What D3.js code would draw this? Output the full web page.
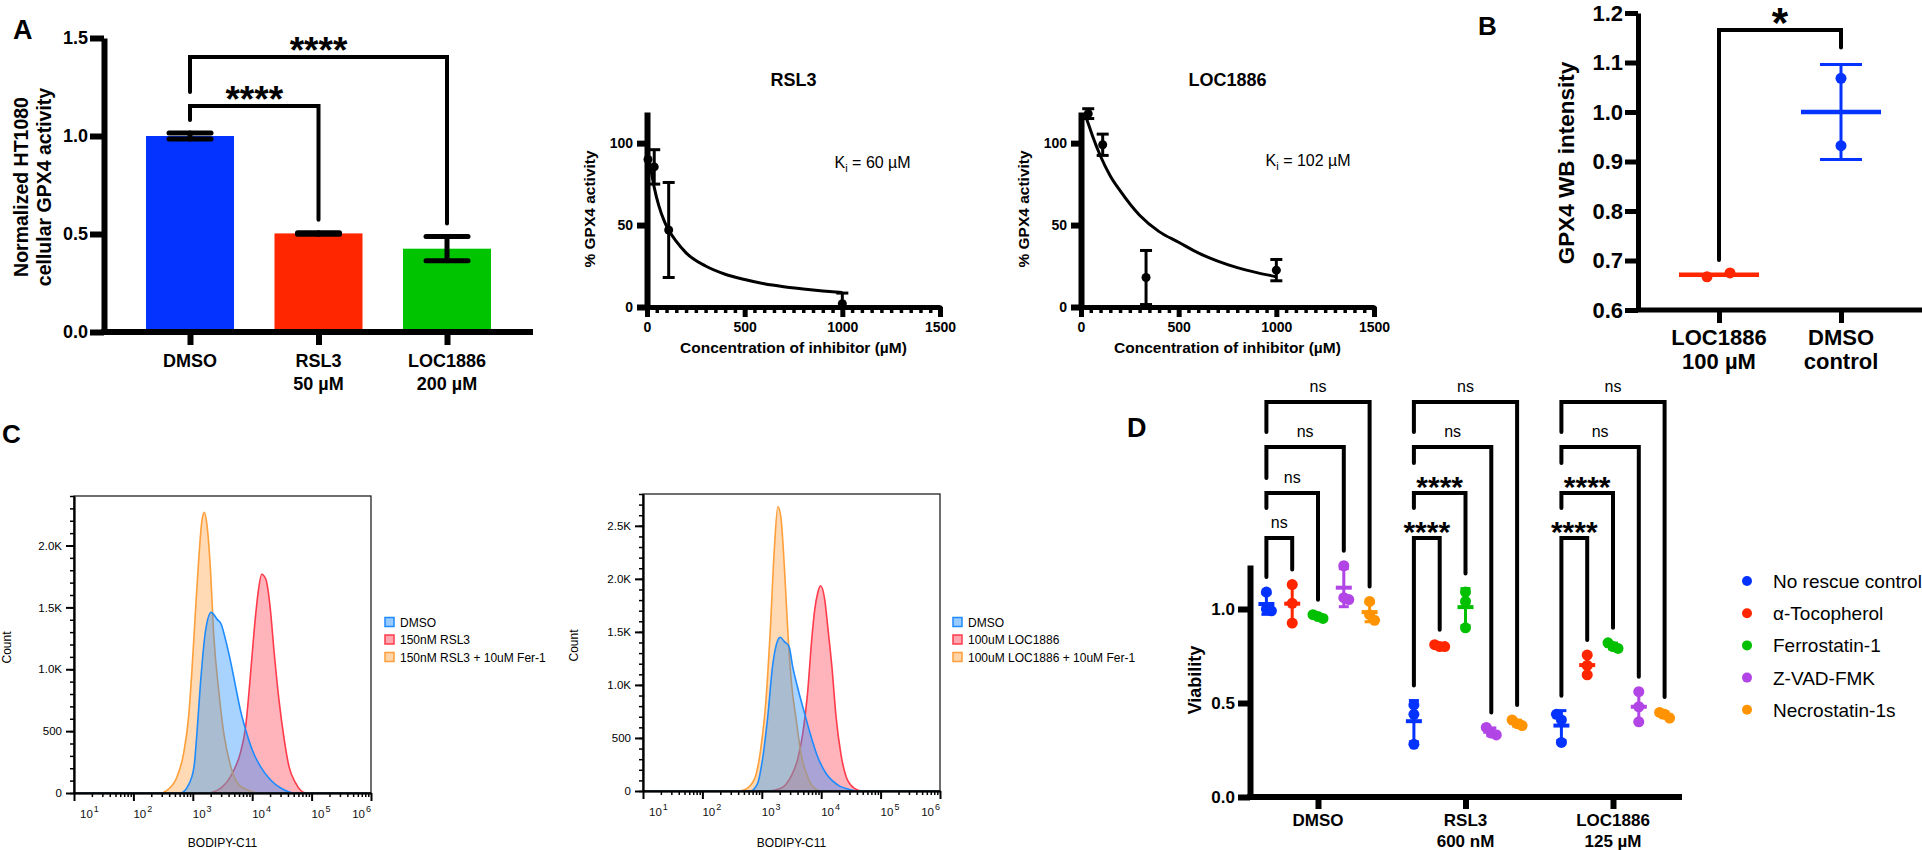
<!DOCTYPE html>
<html>
<head>
<meta charset="utf-8">
<script src="https://cdn.jsdelivr.net/npm/d3@7"></script>
<style>
  body { margin: 0; background: #fff; }
</style>
</head>
<body>
<script>
// ---- panel A : cellular GPX4 activity ----
const gpxGroups = ["DMSO", "RSL3", "LOC1886"]
const gpxSub = ["", "50 µM", "200 µM"]
const gpxMean = [1.0, 0.503, 0.425]
const gpxSd = [0.015, 0.004, 0.062]
const gpxColors = ["#0433FF", "#FF2600", "#00C400"]
const gpxSig = [{a: 0, b: 1, y: 1.153, label: "****"}, {a: 0, b: 2, y: 1.403, label: "****"}]

// Ki plots: [conc, mean, sd]
const rsl3Pts = [[5, 90, 0], [37, 85.5, 10.5], [111, 47, 29], [1000, 2, 6.5]]
const rsl3Fit = [[8, 92], [20, 84], [37, 73], [60, 62], [90, 52], [111, 47], [150, 40], [200, 33], [300, 25],
  [400, 20], [500, 16.8], [600, 14.2], [700, 12.4], [800, 11], [900, 9.8], [1000, 8.8]]
const locPts = [[37, 118, 3], [111, 99, 6.5], [333, 18, 16.5], [1000, 22.5, 6.5]]
const locFit = [[22, 117], [37, 112], [60, 104], [100, 92], [150, 80], [200, 71], [300, 56], [400, 46],
  [500, 39.5], [600, 33], [700, 28], [800, 24], [900, 21], [1000, 18.5]]

// ---- panel B : western blot ----
const wbGroups = ["LOC1886", "DMSO"]
const wbSub = ["100 µM", "control"]
const wbPoints = [[0.667, 0.675], [1.068, 0.932]]
const wbColors = ["#FF2600", "#0433FF"]

// ---- panel C : flow histograms, [log10 BODIPY, count] ----
const histRslFer = [[1, 0], [2.45, 0], [2.57, 24], [2.735, 132], [2.846, 322], [2.93, 619], [2.99, 1025], [3.04, 1430],
  [3.1, 1890], [3.157, 2214], [3.196, 2268], [3.24, 2160], [3.3, 1784], [3.35, 1297], [3.44, 811], [3.52, 487],
  [3.64, 213], [3.75, 81], [3.92, 24], [4.14, 0], [6, 0]]
const histRslDmso = [[1, 0], [2.79, 0], [2.93, 68], [3.02, 211], [3.07, 487], [3.13, 892], [3.21, 1297], [3.31, 1460],
  [3.41, 1403], [3.48, 1362], [3.55, 1241], [3.64, 1054], [3.72, 862], [3.8, 673], [3.89, 511], [4.0, 349],
  [4.14, 213], [4.31, 105], [4.48, 40], [4.7, 0], [6, 0]]
const histRslRsl3 = [[1, 0], [3.24, 0], [3.47, 40], [3.69, 184], [3.8, 322], [3.89, 538], [3.96, 892], [4.03, 1297],
  [4.1, 1622], [4.16, 1768], [4.23, 1727], [4.3, 1511], [4.37, 1133], [4.45, 754], [4.54, 430], [4.62, 213],
  [4.73, 81], [4.9, 0], [6, 0]]
const histLocFer = [[1, 0], [2.6, 0], [2.7, 9], [2.87, 104], [2.98, 387], [3.07, 858], [3.14, 1487], [3.21, 2272],
  [3.27, 2680], [3.32, 2586], [3.38, 2115], [3.44, 1487], [3.5, 1015], [3.58, 669], [3.66, 355], [3.77, 135],
  [3.89, 25], [4.0, 0], [6, 0]]
const histLocDmso = [[1, 0], [2.81, 0], [2.93, 72], [3.01, 292], [3.1, 700], [3.18, 1172], [3.27, 1424], [3.31, 1449],
  [3.38, 1408], [3.46, 1360], [3.52, 1172], [3.6, 983], [3.72, 733], [3.83, 512], [3.94, 323], [4.08, 167],
  [4.28, 57], [4.51, 9], [4.62, 0], [6, 0]]
const histLocLoc = [[1, 0], [3.1, 0], [3.32, 25], [3.49, 135], [3.6, 292], [3.69, 544], [3.77, 921], [3.84, 1424],
  [3.89, 1706], [3.94, 1864], [3.99, 1935], [4.06, 1801], [4.11, 1549], [4.18, 1172], [4.25, 700], [4.33, 355],
  [4.42, 135], [4.56, 25], [4.68, 0], [6, 0]]
const histColors = ["#FF3B4B", "#FF9F3A", "#1E8BFF"]   // treatment, +Fer-1, DMSO
const rslLegend = ["DMSO", "150nM RSL3", "150nM RSL3 + 10uM Fer-1"]
const locLegend = ["DMSO", "100uM LOC1886", "100uM LOC1886 + 10uM Fer-1"]

// ---- panel D : viability rescue ----
const vGroups = ["DMSO", "RSL3", "LOC1886"]
const vSub = ["", "600 nM", "125 µM"]
const rescues = ["No rescue control", "α-Tocopherol", "Ferrostatin-1", "Z-VAD-FMK", "Necrostatin-1s"]
const rescueColors = ["#0433FF", "#FF2600", "#00C000", "#B245E6", "#FF9300"]
const vDMSO = [[1.09, 1.0, 0.99], [1.13, 1.03, 0.925], [0.97, 0.96, 0.95], [1.23, 1.06, 1.05], [1.04, 0.97, 0.94]]
const vRSL3 = [[0.49, 0.44, 0.28], [0.81, 0.80, 0.80], [1.09, 1.04, 0.90], [0.37, 0.34, 0.33], [0.41, 0.39, 0.38]]
const vLOC = [[0.44, 0.41, 0.29], [0.755, 0.70, 0.65], [0.82, 0.80, 0.79], [0.56, 0.48, 0.40], [0.45, 0.44, 0.42]]
const vSig = [["ns", "ns", "ns", "ns"], ["****", "****", "ns", "ns"], ["****", "****", "ns", "ns"]]
const vTiers = [1.378, 1.617, 1.862, 2.101]

const FONT = '"Liberation Sans", Arial, Helvetica, sans-serif'
const svg = d3.select("body").append("svg")
    .attr("width", 1922).attr("height", 850)
    .style("font-family", FONT)

function label(g, x, y, s, size, weight = "bold", anchor = "middle") {
  return g.append("text").attr("x", x).attr("y", y)
    .attr("font-size", size).attr("font-weight", weight)
    .attr("text-anchor", anchor).attr("fill", "#000").text(s)
}
function vlabel(g, x, y, s, size, weight = "bold") {
  return g.append("text").attr("transform", `translate(${x},${y}) rotate(-90)`)
    .attr("font-size", size).attr("font-weight", weight)
    .attr("text-anchor", "middle").attr("fill", "#000").text(s)
}
function styleAxis(g, w, size, weight = "bold") {
  g.attr("font-family", FONT)
  g.select(".domain").attr("stroke", "#000").attr("stroke-width", w)
  g.selectAll(".tick line").attr("stroke", "#000").attr("stroke-width", w)
  g.selectAll(".tick text").attr("fill", "#000").attr("font-size", size).attr("font-weight", weight)
}

// panel letters
label(svg, 13, 39, "A", 27, "bold", "start")
label(svg, 1478, 35, "B", 26, "bold", "start")
label(svg, 2, 443, "C", 26, "bold", "start")
label(svg, 1127, 437, "D", 27, "bold", "start")

// ================= A : bars =================
const gA = svg.append("g")
const xA = d3.scalePoint().domain(gpxGroups).range([190, 447])
const yA = d3.scaleLinear().domain([0, 1.5]).range([332, 38])

gA.selectAll("rect").data(gpxGroups).join("rect")
    .attr("x", d => xA(d) - 44).attr("width", 88)
    .attr("y", (d, i) => yA(gpxMean[i]))
    .attr("height", (d, i) => yA(0) - yA(gpxMean[i]))
    .attr("fill", (d, i) => gpxColors[i])

gpxGroups.forEach((d, i) => {
  const cx = xA(d), hi = yA(gpxMean[i] + gpxSd[i]), lo = yA(gpxMean[i] - gpxSd[i])
  const eb = gA.append("g").attr("stroke", "#000").attr("stroke-width", 5).attr("stroke-linecap", "round")
  eb.append("line").attr("x1", cx).attr("x2", cx).attr("y1", hi).attr("y2", lo)
  eb.append("line").attr("x1", cx - 21).attr("x2", cx + 21).attr("y1", hi).attr("y2", hi)
  eb.append("line").attr("x1", cx - 21).attr("x2", cx + 21).attr("y1", lo).attr("y2", lo)
})

gA.append("line").attr("x1", 101).attr("x2", 533).attr("y1", yA(0)).attr("y2", yA(0))
    .attr("stroke", "#000").attr("stroke-width", 6)
gA.append("g").attr("transform", `translate(0,${yA(0)})`)
    .call(d3.axisBottom(xA).tickSize(13).tickFormat(""))
    .call(g => g.select(".domain").remove())
    .call(styleAxis, 6, 18)
gA.append("g").attr("transform", "translate(104,0)")
    .call(d3.axisLeft(yA).tickValues([0, 0.5, 1, 1.5]).tickFormat(d3.format(".1f"))
      .tickSize(14).tickSizeOuter(0).tickPadding(2))
    .call(styleAxis, 6, 18)

gpxGroups.forEach((d, i) => {
  label(gA, xA(d), 367, d, 18)
  if (gpxSub[i]) label(gA, xA(d), 390, gpxSub[i], 18)
})
vlabel(gA, 28, 187, "Normalized HT1080", 19.5)
vlabel(gA, 51, 187, "cellular GPX4 activity", 19.5)

const topA = i => yA(gpxMean[i] + gpxSd[i])
gpxSig.forEach((s, k) => {
  const xa = xA(gpxGroups[s.a]), xb = xA(gpxGroups[s.b]), yy = yA(s.y)
  const leftBot = k === 0 ? topA(s.a) - 13 : yA(gpxSig[k - 1].y) - 14
  gA.append("path").attr("d", `M${xa},${leftBot}V${yy}H${xb}V${topA(s.b) - 13}`)
      .attr("fill", "none").attr("stroke", "#000").attr("stroke-width", 4).attr("stroke-linecap", "round")
  label(gA, (xa + xb) / 2, yy + 6, s.label, 37)
})

// ================= A : Ki curves =================
function kiPanel(left, title, pts, fit, ki) {
  const g = svg.append("g")
  const x = d3.scaleLinear().domain([0, 1500]).range([left, left + 293])
  const y = d3.scaleLinear().domain([0, 119]).range([307, 112])
  const cx = (x.range()[0] + x.range()[1]) / 2

  g.append("g").attr("transform", "translate(0,307)")
      .call(d3.axisBottom(x).tickValues(d3.range(0, 1501, 50)).tickSize(6).tickFormat(""))
      .call(styleAxis, 3.5, 14)
  g.append("g").attr("transform", "translate(0,307)")
      .call(d3.axisBottom(x).tickValues([0, 500, 1000, 1500]).tickFormat(d => String(d))
        .tickSize(10).tickSizeOuter(0).tickPadding(5))
      .call(styleAxis, 5, 14)
  g.append("g").attr("transform", `translate(${left},0)`)
      .call(d3.axisLeft(y).tickValues([0, 50, 100]).tickSize(10).tickSizeOuter(0).tickPadding(4))
      .call(styleAxis, 6, 14)

  g.append("path").datum(fit)
      .attr("d", d3.line().x(d => x(d[0])).y(d => y(d[1])).curve(d3.curveMonotoneX))
      .attr("fill", "none").attr("stroke", "#000").attr("stroke-width", 3)

  pts.forEach(p => {
    if (p[2] > 0) {
      const hi = y(p[1] + p[2]), lo = y(Math.max(0, p[1] - p[2]))
      g.append("line").attr("x1", x(p[0])).attr("x2", x(p[0])).attr("y1", hi).attr("y2", lo)
          .attr("stroke", "#000").attr("stroke-width", 3)
      g.append("line").attr("x1", x(p[0]) - 6).attr("x2", x(p[0]) + 6).attr("y1", hi).attr("y2", hi)
          .attr("stroke", "#000").attr("stroke-width", 3)
      if (p[1] - p[2] > 0)
        g.append("line").attr("x1", x(p[0]) - 6).attr("x2", x(p[0]) + 6).attr("y1", lo).attr("y2", lo)
            .attr("stroke", "#000").attr("stroke-width", 3)
    }
    g.append("circle").attr("cx", x(p[0])).attr("cy", y(p[1])).attr("r", 4.5).attr("fill", "#000")
  })

  label(g, cx, 86, title, 18)
  label(g, cx, 353, "Concentration of inhibitor (µM)", 15.5)
  vlabel(g, left - 52, 209, "% GPX4 activity", 15.5)
  const t = label(g, x(ki[0]), y(ki[1]), "K", 16, "normal", "start")
  t.append("tspan").attr("font-size", 11).attr("dy", 4).text("i")
  t.append("tspan").attr("dy", -4).text(" = " + ki[2])
}
kiPanel(647, "RSL3", rsl3Pts, rsl3Fit, [960, 85, "60 µM"])
kiPanel(1081, "LOC1886", locPts, locFit, [945, 86, "102 µM"])

// ================= B =================
const gB = svg.append("g")
const xB = d3.scalePoint().domain(wbGroups).range([1719, 1841])
const yB = d3.scaleLinear().domain([0.6, 1.2]).range([310, 13])

gB.append("line").attr("x1", 1636).attr("x2", 1922).attr("y1", yB(0.6)).attr("y2", yB(0.6))
    .attr("stroke", "#000").attr("stroke-width", 5)
gB.append("g").attr("transform", `translate(0,${yB(0.6)})`)
    .call(d3.axisBottom(xB).tickSize(13).tickFormat(""))
    .call(g => g.select(".domain").remove())
    .call(styleAxis, 5, 22)
gB.append("g").attr("transform", "translate(1638,0)")
    .call(d3.axisLeft(yB).tickValues(d3.range(0.6, 1.21, 0.1)).tickFormat(d3.format(".1f"))
      .tickSize(13).tickSizeOuter(0).tickPadding(2))
    .call(styleAxis, 5, 22)
wbGroups.forEach((d, i) => {
  label(gB, xB(d), 345, d, 22)
  label(gB, xB(d), 369, wbSub[i], 22)
})
vlabel(gB, 1574, 163, "GPX4 WB intensity", 22.5)

wbGroups.forEach((d, i) => {
  const vals = wbPoints[i], m = d3.mean(vals), sd = d3.deviation(vals), cx = xB(d), col = wbColors[i]
  const spread = Math.abs(vals[0] - vals[1]) < 0.03
  vals.forEach((v, j) => {
    gB.append("circle").attr("cx", cx + (spread ? (j ? 11 : -12) : 0)).attr("cy", yB(v)).attr("r", 5.5).attr("fill", col)
  })
  gB.append("line").attr("x1", cx - 40).attr("x2", cx + 40).attr("y1", yB(m)).attr("y2", yB(m))
      .attr("stroke", col).attr("stroke-width", 4.5)
  if (!spread) {
    const hi = yB(m + sd), lo = yB(m - sd)
    gB.append("line").attr("x1", cx).attr("x2", cx).attr("y1", hi).attr("y2", lo).attr("stroke", col).attr("stroke-width", 3)
    gB.append("line").attr("x1", cx - 21).attr("x2", cx + 21).attr("y1", hi).attr("y2", hi).attr("stroke", col).attr("stroke-width", 3)
    gB.append("line").attr("x1", cx - 21).attr("x2", cx + 21).attr("y1", lo).attr("y2", lo).attr("stroke", col).attr("stroke-width", 3)
  }
})
{
  const xa = xB(wbGroups[0]), xb = xB(wbGroups[1]), yy = 30
  const topLeft = yB(d3.max(wbPoints[0])) - 13
  const topRight = yB(d3.mean(wbPoints[1]) + d3.deviation(wbPoints[1])) - 17
  gB.append("path").attr("d", `M${xa},${topLeft}V${yy}H${xb}V${topRight}`)
      .attr("fill", "none").attr("stroke", "#000").attr("stroke-width", 4).attr("stroke-linecap", "round")
  label(gB, (xa + xb) / 2, 37, "*", 42)
}

// ================= C : histograms =================
function histPanel(left, top, maxCount, series, legend, legendX) {
  const g = svg.append("g")
  const W = 297, H = 297
  const x = d3.scaleLog().domain([10, 1e6]).range([left, left + W])
  const y = d3.scaleLinear().domain([0, maxCount]).range([top + H, top])

  const area = d3.area().x(d => x(Math.pow(10, d[0]))).y0(y(0)).y1(d => y(d[1])).curve(d3.curveMonotoneX)
  series.forEach((s, k) => {
    g.append("path").datum(s).attr("d", area)
        .attr("fill", histColors[k]).attr("fill-opacity", 0.38)
        .attr("stroke", histColors[k]).attr("stroke-width", 1.6)
  })

  g.append("rect").attr("x", left).attr("y", top).attr("width", W).attr("height", H)
      .attr("fill", "none").attr("stroke", "#222").attr("stroke-width", 1.3)

  const minor = []
  for (let e = 1; e < 6; e++) for (let k = 2; k < 10; k++) minor.push(k * Math.pow(10, e))
  const major = [1e1, 1e2, 1e3, 1e4, 1e5, 1e6]
  g.append("g").attr("transform", `translate(0,${top + H})`)
      .call(d3.axisBottom(x).tickValues(minor).tickSize(4).tickFormat("").tickSizeOuter(0))
      .call(styleAxis, 1.5, 11)
  g.append("g").attr("transform", `translate(0,${top + H})`)
      .call(d3.axisBottom(x).tickValues(major).tickSize(8).tickFormat("").tickSizeOuter(0))
      .call(styleAxis, 2, 11)
  major.forEach((v, i) => {
    const px = x(v)
    const t = g.append("text").attr("y", top + H + 25).attr("font-size", 11.5).attr("fill", "#111")
        .attr("x", i === 0 ? px + 6 : px).attr("text-anchor", i === 5 ? "end" : "start")
    t.append("tspan").text("10")
    t.append("tspan").attr("font-size", 9).attr("dx", 1).attr("dy", -6).text(i + 1)
  })

  const fmt = d => d === 0 ? "0" : d < 1000 ? String(d) : (d / 1000).toFixed(1) + "K"
  g.append("g").attr("transform", `translate(${left},0)`)
      .call(d3.axisLeft(y).tickValues(d3.range(0, maxCount + 1, 100)).tickSize(4).tickFormat("").tickSizeOuter(0))
      .call(styleAxis, 1.5, 11)
  g.append("g").attr("transform", `translate(${left},0)`)
      .call(d3.axisLeft(y).tickValues(d3.range(0, maxCount + 1, 500)).tickSize(8).tickFormat(fmt).tickSizeOuter(0).tickPadding(4))
      .call(styleAxis, 2, 11.5, "normal")

  label(g, left + W / 2, 847, "BODIPY-C11", 12, "normal")
  vlabel(g, Math.max(left - 65, 11), top + H / 2 + 3, "Count", 12, "normal")

  const legOrder = [2, 0, 1]
  legend.forEach((s, i) => {
    const cy = 622 + i * 17.5, col = histColors[legOrder[i]]
    g.append("rect").attr("x", legendX).attr("y", cy - 4.5).attr("width", 9).attr("height", 9)
        .attr("fill", col).attr("fill-opacity", 0.45).attr("stroke", col).attr("stroke-width", 1.5)
    label(g, legendX + 15, cy + 4.5, s, 12, "normal", "start")
  })
}
histPanel(74, 496, 2400, [histRslRsl3, histRslFer, histRslDmso], rslLegend, 385)
histPanel(643, 494, 2800, [histLocLoc, histLocFer, histLocDmso], locLegend, 953)

// ================= D : viability =================
const gD = svg.append("g")
const xD = d3.scalePoint().domain(vGroups).range([1318, 1613])
const offD = d3.scalePoint().domain(rescues).range([-51.6, 51.6])
const yD = d3.scaleLinear().domain([0, 1.234]).range([797, 565])
const vData = [vDMSO, vRSL3, vLOC]

gD.append("line").attr("x1", 1247).attr("x2", 1682).attr("y1", yD(0)).attr("y2", yD(0))
    .attr("stroke", "#000").attr("stroke-width", 6)
gD.append("g").attr("transform", `translate(0,${yD(0)})`)
    .call(d3.axisBottom(xD).tickSize(12).tickFormat(""))
    .call(g => g.select(".domain").remove())
    .call(styleAxis, 6, 17)
gD.append("g").attr("transform", "translate(1250,0)")
    .call(d3.axisLeft(yD).tickValues([0, 0.5, 1]).tickFormat(d3.format(".1f"))
      .tickSize(12).tickSizeOuter(0).tickPadding(3))
    .call(styleAxis, 6, 17)
vGroups.forEach((d, i) => {
  label(gD, xD(d), 826, d, 17)
  if (vSub[i]) label(gD, xD(d), 847, vSub[i], 17)
})
vlabel(gD, 1201, 680, "Viability", 18)

const topD = vals => Math.max(d3.max(vals), d3.mean(vals) + d3.deviation(vals))
vGroups.forEach((grp, gi) => {
  const base = xD(grp)
  rescues.forEach((r, si) => {
    const vals = vData[gi][si], col = rescueColors[si], cx = base + offD(r)
    const m = d3.mean(vals), sd = d3.deviation(vals)
    vals.forEach((v, j) => {
      const near = vals.some((w, k) => k !== j && Math.abs(w - v) < 0.035)
      gD.append("circle").attr("cx", cx + (near ? (j - 1) * 5 : 0)).attr("cy", yD(v)).attr("r", 5.5).attr("fill", col)
    })
    const hi = yD(m + sd), lo = yD(m - sd)
    gD.append("line").attr("x1", cx).attr("x2", cx).attr("y1", hi).attr("y2", lo).attr("stroke", col).attr("stroke-width", 3)
    gD.append("line").attr("x1", cx - 5).attr("x2", cx + 5).attr("y1", hi).attr("y2", hi).attr("stroke", col).attr("stroke-width", 3)
    gD.append("line").attr("x1", cx - 5).attr("x2", cx + 5).attr("y1", lo).attr("y2", lo).attr("stroke", col).attr("stroke-width", 3)
    gD.append("line").attr("x1", cx - 8).attr("x2", cx + 8).attr("y1", yD(m)).attr("y2", yD(m)).attr("stroke", col).attr("stroke-width", 4)
  })

  // comparison brackets against the no-rescue control
  const xa = base + offD(rescues[0])
  vSig[gi].forEach((s, k) => {
    const xb = base + offD(rescues[k + 1]), yy = yD(vTiers[k])
    let leftBot
    if (k === 0) leftBot = yD(topD(vData[gi][0])) - 15
    else {
      const prevLab = vSig[gi][k - 1] === "ns" ? 8 : 23
      const prevHalf = (offD(rescues[k]) - offD(rescues[0])) / 2
      leftBot = yD(vTiers[k - 1]) - (prevLab + 8 > prevHalf ? 30 : 15)
    }
    const rightBot = yD(topD(vData[gi][k + 1])) - 15
    gD.append("path").attr("d", `M${xa},${leftBot}V${yy}H${xb}V${rightBot}`)
        .attr("fill", "none").attr("stroke", "#000").attr("stroke-width", 4).attr("stroke-linecap", "round")
    if (s === "ns") label(gD, (xa + xb) / 2, yy - 10, s, 16, "normal")
    else label(gD, (xa + xb) / 2, yy + 4, s, 30)
  })
})

rescues.forEach((r, i) => {
  const cy = 581 + i * 32.2
  gD.append("circle").attr("cx", 1747).attr("cy", cy).attr("r", 5).attr("fill", rescueColors[i])
  label(gD, 1773, cy + 7, r, 19, "normal", "start")
})
</script>
</body>
</html>
